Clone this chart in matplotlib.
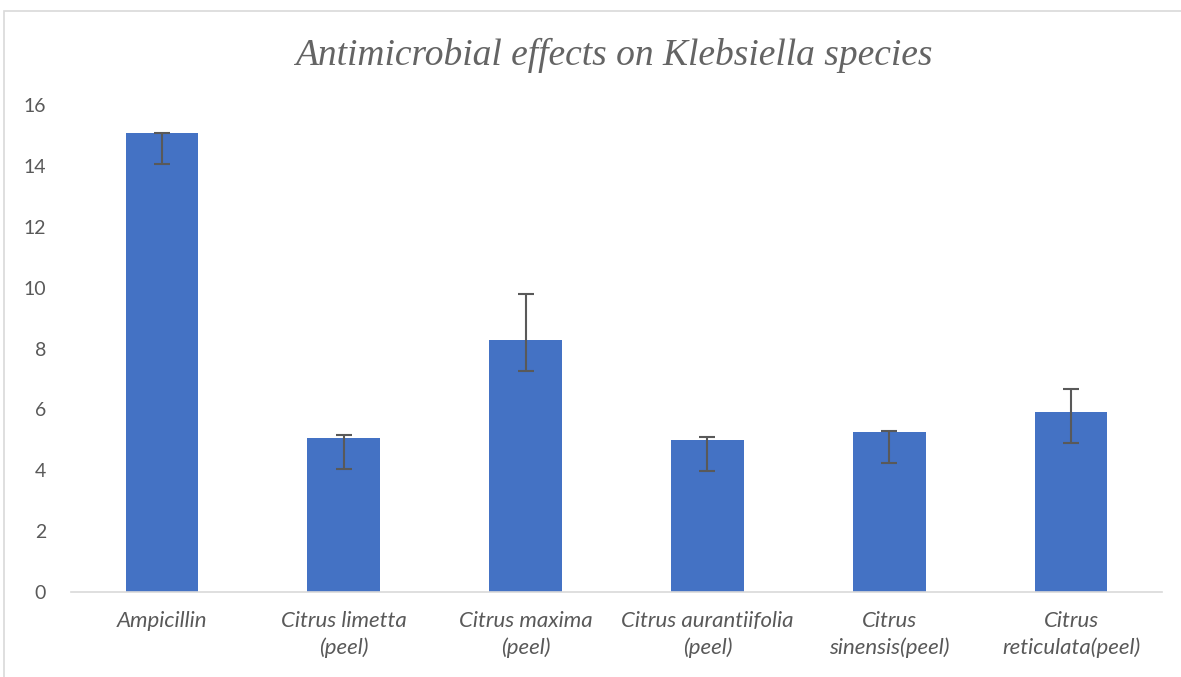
import matplotlib.pyplot as plt
from matplotlib.patches import Rectangle

# zone of inhibition values
categories = ["Ampicillin", "Citrus limetta\n(peel)", "Citrus maxima\n(peel)",
              "Citrus aurantiifolia\n(peel)", "Citrus\nsinensis(peel)", "Citrus\nreticulata(peel)"]
values = [15.07, 5.05, 8.28, 4.98, 5.25, 5.90]
err_minus = [1.02, 1.02, 1.01, 1.0, 1.01, 1.01]
err_plus = [0.0, 0.11, 1.5, 0.11, 0.04, 0.77]
yticks = [0, 2, 4, 6, 8, 10, 12, 14, 16]

text_gray = "#595959"

fig = plt.figure(figsize=(11.81, 6.77), dpi=100)
ax = fig.add_axes([71 / 1181, 1 - 592 / 677, (1162 - 71) / 1181, (592 - 105) / 677])

x = range(len(categories))
ax.bar(x, values, width=0.4, color="#4472C4", zorder=2)
ax.errorbar(x, values, yerr=[err_minus, err_plus], fmt="none", ecolor="#595959",
            elinewidth=1.5, capsize=6, capthick=1.5, zorder=3)

ax.set_xlim(-0.5, len(categories) - 0.5)
ax.set_ylim(0, 16)
ax.set_yticks(yticks)
ax.set_yticklabels([str(t) for t in yticks], family="Lato", fontsize=14, color=text_gray)
ax.set_xticks(list(x))
ax.set_xticklabels(categories, family="Lato", style="italic", fontsize=16,
                   color=text_gray, linespacing=1.35)
ax.tick_params(axis="both", length=0)
ax.tick_params(axis="y", pad=18)
ax.tick_params(axis="x", pad=14)

for s in ["top", "right", "left"]:
    ax.spines[s].set_visible(False)
ax.spines["bottom"].set_color("#d9d9d9")
ax.spines["bottom"].set_linewidth(1.2)

fig.text(0.5 + 23 / 1181, 1 - 55 / 677, "Antimicrobial effects on Klebsiella species",
         family="Liberation Serif", style="italic", fontsize=27, color="#646464",
         ha="center", va="center")

# outer chart border
fig.patches.append(Rectangle((4 / 1181, -0.05), 1.1, 1 - 11 / 677 + 0.05,
                             transform=fig.transFigure, fill=False,
                             edgecolor="#d9d9d9", linewidth=1.2))

fig.savefig("out.png", dpi=100)
